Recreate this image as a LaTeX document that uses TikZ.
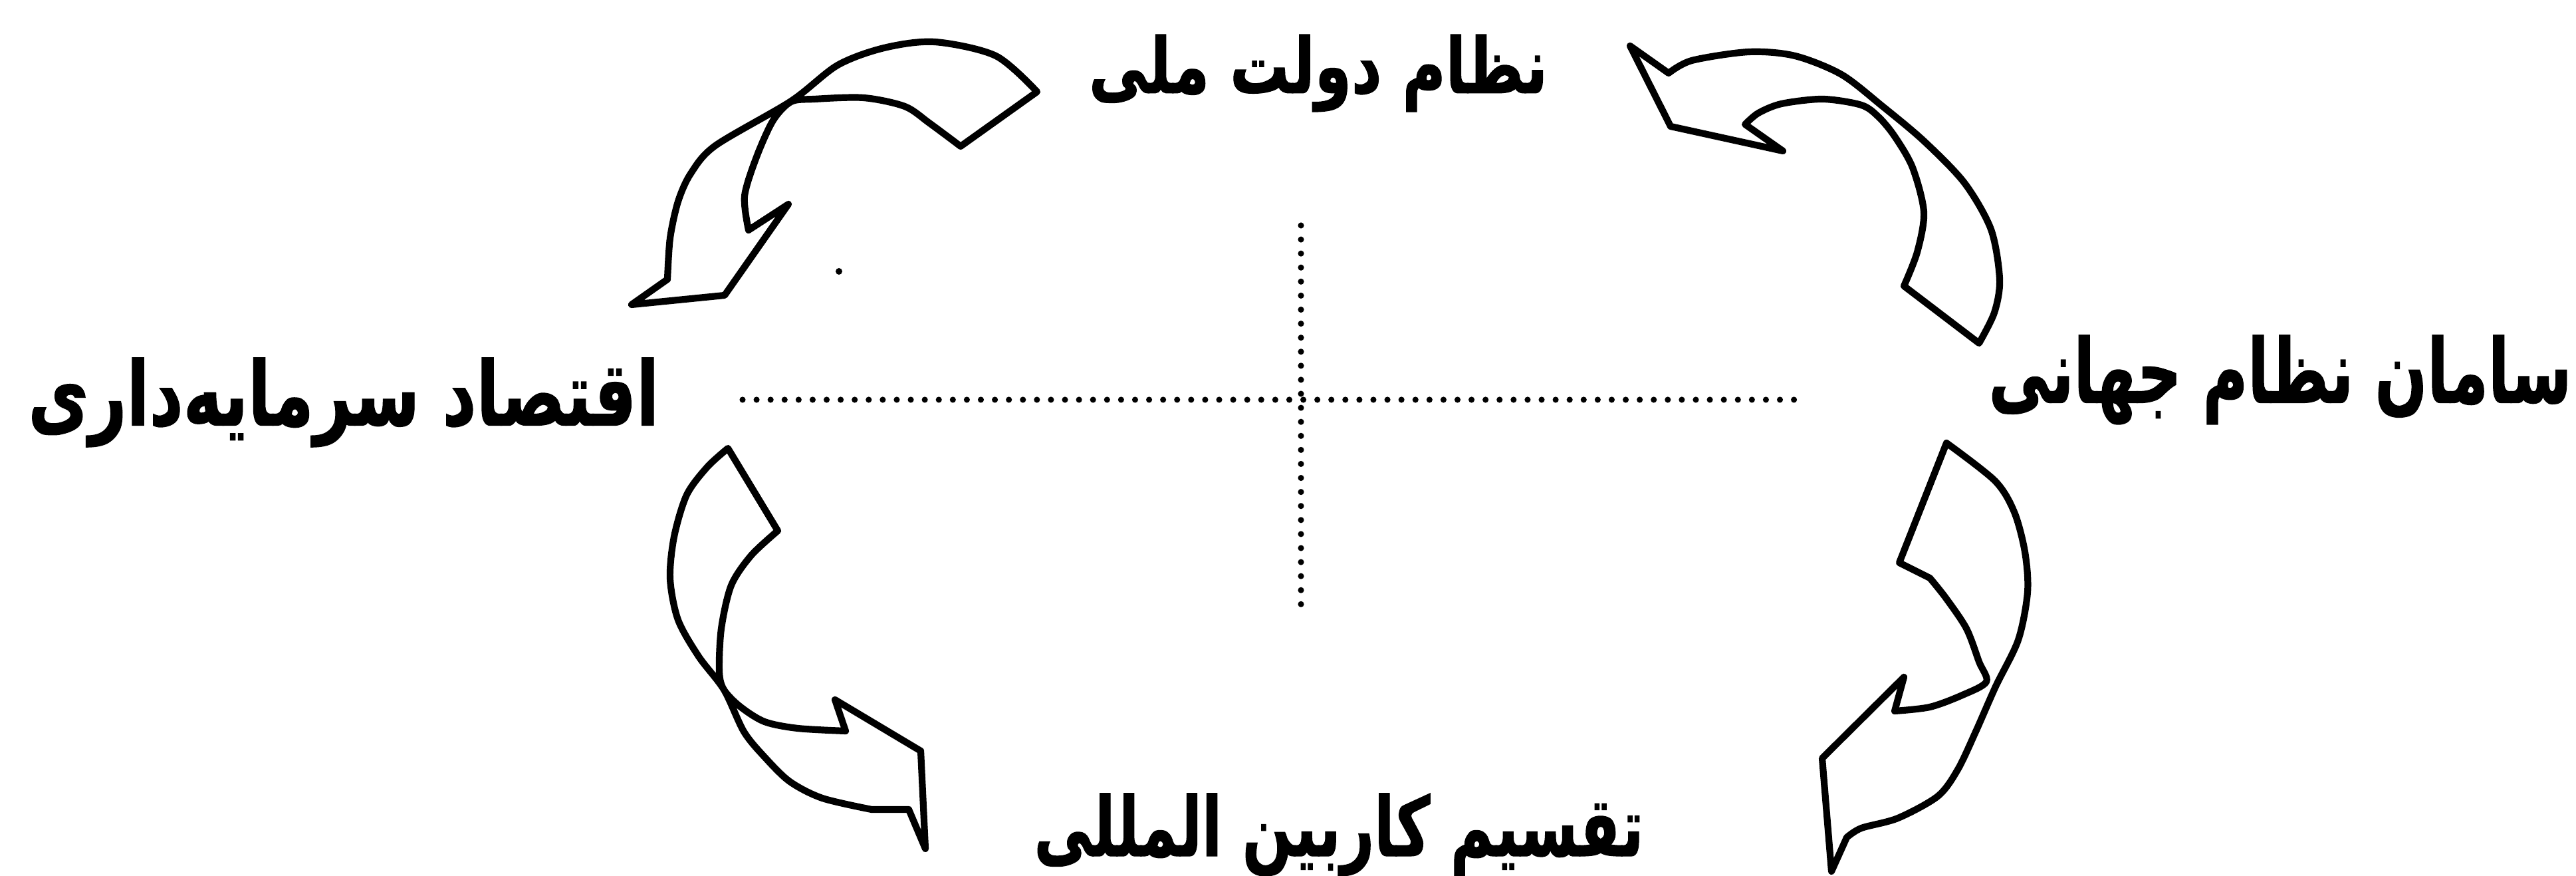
\documentclass[tikz,border=0pt]{standalone}
\usepackage{fontspec}
\usepackage{graphicx}
\newfontfamily\farsi[Script=Arabic, BoldFeatures={FakeBold=1.2}]{DejaVu Sans}
\TeXXeTstate=1
\definecolor{cInk}{HTML}{000000}
% texto persa ajustado a la caja de la figura original
\newcommand{\rotulo}[3]{\resizebox*{#1}{#2}{\farsi\bfseries #3}}

\begin{document}
\begin{tikzpicture}[
    x=1cm, y=1cm,
    lbl/.style={inner sep=0pt, text=cInk},
    band/.style={draw=cInk, line width=2.9pt, line join=round},
    guide/.style={draw=cInk, line width=2.6pt, line cap=round,
                  dash pattern=on 0pt off 6pt},
]
\useasboundingbox (0,0) rectangle (38.75,13.17);

% ===================== Etiquetas =====================
\node[lbl] (dolat)   at (19.83,12.07) {\rotulo{6.90cm}{1.16cm}{\beginR نظام دولت ملی\endR}};
\node[lbl] (eqtesad) at (5.17,7.12)   {\rotulo{9.49cm}{1.34cm}{\beginR اقتصاد سرمایه‌داری\endR}};
\node[lbl] (saman)   at (34.30,7.46)  {\rotulo{8.77cm}{1.34cm}{\beginR سامان نظام جهانی\endR}};
\node[lbl] (taqsim)  at (20.14,0.62)  {\rotulo{9.17cm}{1.24cm}{\beginR تقسیم کاربین المللی\endR}};

% ===================== Ejes punteados =====================
\coordinate (hL) at (11.17,7.16);
\coordinate (hR) at (27.18,7.16);
\coordinate (vT) at (19.57,9.78);
\coordinate (vB) at (19.57,3.93);
\draw[guide] (hL) -- (hR);
\draw[guide] (vT) -- (vB);

% ===================== Flecha superior izquierda =====================
\draw[band] (15.60,11.79)
  -- plot[smooth] coordinates {(15.60,11.79) (14.98,12.33) (14.06,12.54)
       (13.30,12.45) (12.60,12.19) (11.90,11.65) (10.76,10.98) (10.39,10.56)
       (10.20,10.14) (10.08,9.59) (10.04,8.97)}
  -- (9.50,8.59) -- (10.90,8.73) -- (11.86,10.10) -- (11.26,9.71)
  -- plot[smooth] coordinates {(11.26,9.71) (11.20,10.22) (11.38,10.81)
       (11.63,11.36) (11.90,11.64) (12.25,11.68) (12.99,11.70) (13.61,11.57)
       (13.98,11.32) (14.45,10.97)}
  -- cycle;

% ===================== Flecha superior derecha =====================
\draw[band] (24.52,12.48) -- (25.10,12.07)
  -- plot[smooth] coordinates {(25.10,12.07) (25.45,12.26) (26.31,12.39)
       (27.00,12.33) (27.70,12.05) (28.32,11.57) (28.94,11.05) (29.55,10.42)
       (29.95,9.72) (30.08,8.97) (30.00,8.47) (29.77,8.01)}
  -- (28.64,8.87)
  -- plot[smooth] coordinates {(28.64,8.87) (28.84,9.38) (28.94,9.98)
       (28.77,10.65) (28.50,11.12) (28.26,11.41) (28.00,11.59) (27.42,11.68)
       (26.80,11.61) (26.45,11.47) (26.25,11.30)}
  -- (26.82,10.90) -- (25.13,11.27) -- cycle;

% ===================== Flecha inferior izquierda =====================
\draw[band] (10.95,6.43) -- (11.70,5.19)
  -- plot[smooth] coordinates {(11.70,5.19) (11.30,4.82) (11.00,4.37)
       (10.85,3.72) (10.82,3.07) (10.89,2.80) (11.13,2.55) (11.50,2.32)
       (12.00,2.22) (12.72,2.18)}
  -- (12.56,2.65) -- (13.85,1.88) -- (13.92,0.41) -- (13.67,1.00) -- (13.11,1.00)
  -- plot[smooth] coordinates {(13.11,1.00) (12.37,1.17) (11.88,1.42)
       (11.50,1.79) (11.19,2.17) (10.89,2.80) (10.51,3.30) (10.20,3.85)
       (10.08,4.47) (10.14,5.10) (10.33,5.73) (10.64,6.15) (10.95,6.43)}
  -- cycle;

% ===================== Flecha inferior derecha =====================
\draw[band] (29.28,6.51)
  -- plot[smooth] coordinates {(29.28,6.51) (30.01,5.94) (30.30,5.47)
       (30.46,4.87) (30.50,4.27) (30.36,3.55) (30.02,2.85) (29.72,2.17)
       (29.45,1.60) (29.15,1.20) (28.55,0.87) (28.00,0.72) (27.78,0.58)}
  -- (27.55,0.07) -- (27.41,1.77) -- (28.64,2.99) -- (28.50,2.48)
  -- plot[smooth] coordinates {(28.50,2.48) (29.03,2.54) (29.52,2.72)
       (29.88,2.92) (29.77,3.22) (29.58,3.72) (29.27,4.18) (29.03,4.48)}
  -- (28.57,4.71) -- cycle;

% punto suelto
\fill[cInk] (12.62,9.09) circle (0.05);

\end{tikzpicture}
\end{document}
